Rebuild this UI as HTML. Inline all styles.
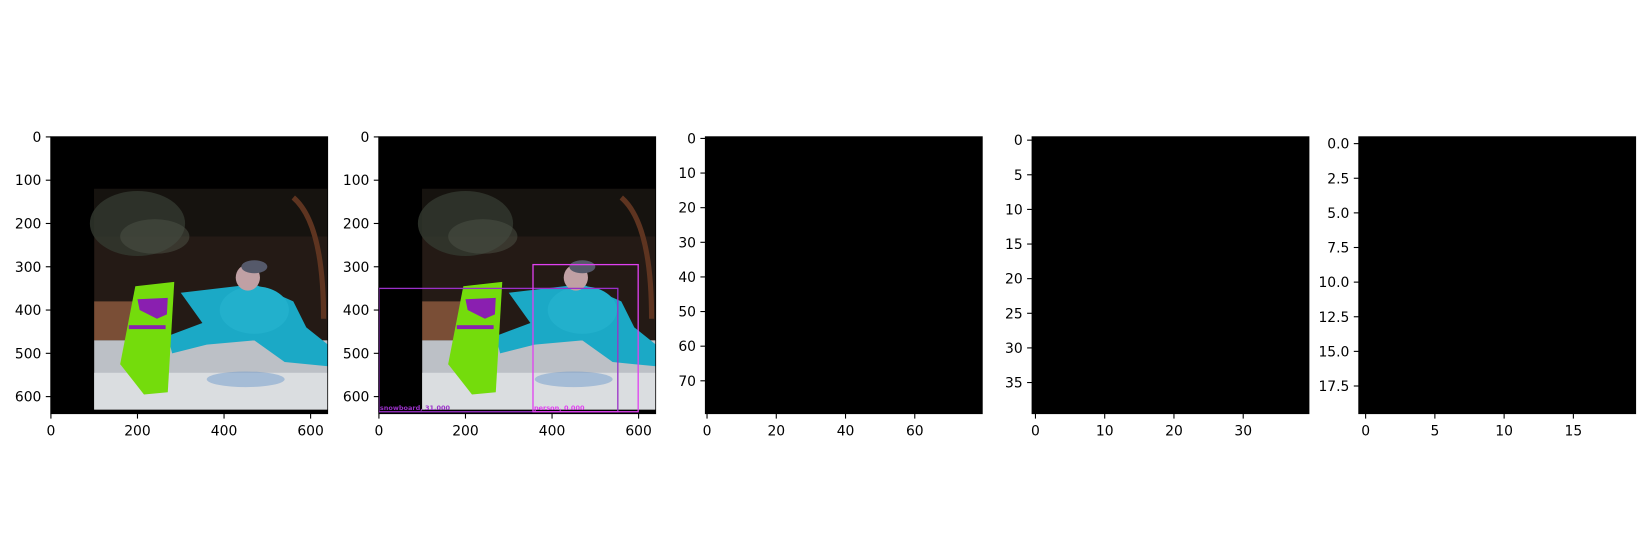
<!DOCTYPE html>
<html><head><meta charset="utf-8"><style>
html,body{margin:0;padding:0;background:#fff;}
svg{display:block;font-family:"DejaVu Sans","Liberation Sans",sans-serif;}
</style></head><body>
<svg id="fig" width="1650" height="550" viewBox="0 0 1650 550" xmlns="http://www.w3.org/2000/svg">
<defs>
<g id="scene">
  <rect x="-0.5" y="-0.5" width="640" height="640" fill="#000"/>
  <rect x="100" y="120" width="540" height="510" fill="#241a15"/>
  <rect x="100" y="120" width="540" height="110" fill="#16130f"/>
  <ellipse cx="200" cy="200" rx="110" ry="75" fill="#333a30" opacity="0.8"/>
  <ellipse cx="240" cy="230" rx="80" ry="40" fill="#4e5448" opacity="0.5"/>
  <path d="M560 140 Q630 200 630 420" stroke="#5e3420" stroke-width="12" fill="none"/>
  <rect x="100" y="380" width="120" height="90" fill="#7a4e36"/>
  <rect x="100" y="470" width="540" height="160" fill="#bcc0c6"/>
  <rect x="100" y="545" width="540" height="85" fill="#dadde0"/>
  <ellipse cx="450" cy="560" rx="90" ry="18" fill="#6f9ccc" opacity="0.5"/>
  <path d="M300 360 L470 340 L560 380 L590 440 L640 480 L640 530 L540 520 L470 470 L360 480 L280 500 L270 460 L350 430 Z" fill="#1ba9c6"/>
  <ellipse cx="470" cy="400" rx="80" ry="55" fill="#22b0cc"/>
  <ellipse cx="455" cy="325" rx="28" ry="30" fill="#c0a0a4"/>
  <ellipse cx="470" cy="300" rx="30" ry="15" fill="#55596a"/>
  <path d="M195 345 L285 335 L270 590 L215 595 L160 525 Z" fill="#74dc0c"/>
  <path d="M200 375 L270 372 L268 410 L245 420 L205 400 Z" fill="#8a1fb0"/>
  <rect x="180" y="435" width="85" height="9" fill="#8a1fb0"/>
</g>
</defs>
<g id="axes"></g>
</svg>
<script>
const panelLefts=[50.7,378.7,705.3,1032,1358.7];
const axTop=136.7, axSize=277;
const extents=[640,640,80,40,20];
const xTicks=[[0,200,400,600],[0,200,400,600],[0,20,40,60],[0,10,20,30],[0,5,10,15]];
const yTicks=[[0,100,200,300,400,500,600],[0,100,200,300,400,500,600],[0,10,20,30,40,50,60,70],[0,5,10,15,20,25,30,35],[0,2.5,5,7.5,10,12.5,15,17.5]];
const yDecimals=[0,0,0,0,1];
const boxLabels=["snowboard, 31.000","person, 0.000"];
const boxX0=[0,356], boxX1=[552,599], boxY0=[350,295], boxY1=[635,635];
const boxColors=["#9a30c8","#e040f0"];
const NS="http://www.w3.org/2000/svg";
const root=document.getElementById('axes');
function mk(t,a,p){const e=document.createElementNS(NS,t);for(const k in a)e.setAttribute(k,a[k]);(p||root).appendChild(e);return e;}
for(let i=0;i<5;i++){
  const L=panelLefts[i], ext=extents[i], s=axSize/ext;
  const sx=v=>L+(v+0.5)*s, sy=v=>axTop+(v+0.5)*s;
  const g=mk('g',{});
  
  
  const img=mk('rect',{x:L,y:axTop,width:axSize,height:axSize,fill:'#000'},g);
  
  
  if(i<2){
    const u=mk('use',{href:'#scene',transform:`translate(${L+0.5*s},${axTop+0.5*s}) scale(${s})`},g);
    
    
  }
  if(i===1){
    for(let b=0;b<boxLabels.length;b++){
      const r=mk('rect',{x:sx(boxX0[b]),y:sy(boxY0[b]),width:sx(boxX1[b])-sx(boxX0[b]),height:sy(boxY1[b])-sy(boxY0[b]),fill:'none',stroke:boxColors[b],'stroke-width':1.3},g);
      
      
      const t=mk('text',{x:sx(boxX0[b])+1,y:sy(boxY1[b])-2,'font-size':6.5,fill:boxColors[b],'font-weight':'bold'},g);
      t.textContent=boxLabels[b];
      
      
    }
  }
  mk('rect',{x:L,y:axTop,width:axSize,height:axSize,fill:'none',stroke:'#000','stroke-width':0.8},g);
  xTicks[i].forEach(v=>{
    const x=sx(v);
    mk('line',{x1:x,x2:x,y1:axTop+axSize,y2:axTop+axSize+4.9,stroke:'#000','stroke-width':1.1},g);
    const t=mk('text',{x:x,y:axTop+axSize+22,'font-size':13.9,'text-anchor':'middle',fill:'#000'},g);
    t.textContent=String(v);
    
    
  });
  yTicks[i].forEach(v=>{
    const y=sy(v);
    mk('line',{x1:L,x2:L-4.9,y1:y,y2:y,stroke:'#000','stroke-width':1.1},g);
    const t=mk('text',{x:L-9.3,y:y+5,'font-size':13.9,'text-anchor':'end',fill:'#000'},g);
    t.textContent=v.toFixed(yDecimals[i]);
    
    
  });
}
</script>
</body></html>
